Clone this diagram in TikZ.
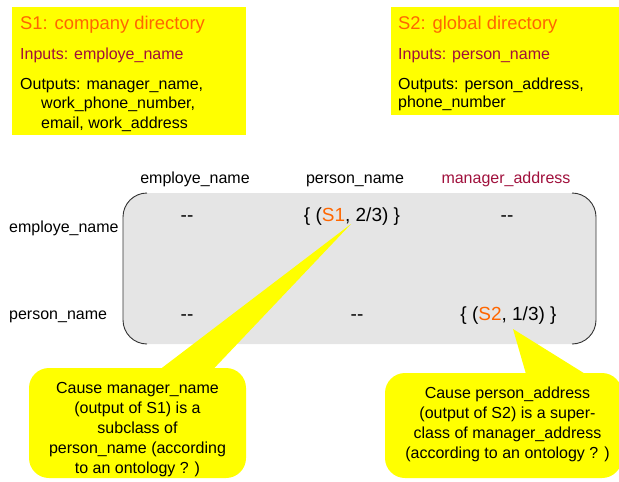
\documentclass[tikz,border=0pt]{standalone}
\usepackage{fontspec}
\setmainfont{Liberation Sans}
\definecolor{boxyellow}{RGB}{255,255,0}
\definecolor{svcorange}{RGB}{255,102,0}
\definecolor{inred}{RGB}{160,16,60}
\definecolor{matgrey}{RGB}{229,229,229}

\begin{document}
\begin{tikzpicture}[x=1pt,y=-1pt,
  txt/.style={inner sep=0pt,font=\fontsize{16pt}{20pt}\selectfont},
  cell/.style={inner sep=0pt,anchor=base,font=\fontsize{19pt}{22pt}\selectfont},
  ttl/.style={inner sep=0pt,text=svcorange,font=\fontsize{18.4pt}{22pt}\selectfont},
  svcbox/.style={fill=boxyellow,inner sep=0pt,anchor=north west},
  callbox/.style={fill=boxyellow,rounded corners=20pt,inner sep=0pt},
  note/.style={txt,align=center}]
\useasboundingbox (0,0) rectangle (619,482);

\node[svcbox,minimum width=234pt,minimum height=128pt] (s1) at (12,7) {};
\node[ttl,anchor=base west] (s1t) at (20,29.5) {S1: company directory};
\node[txt,anchor=base west,text=inred] (s1i) at (20,59) {Inputs: employe\_name};
\node[txt,anchor=base west] (s1o) at (20,89) {Outputs: manager\_name,};
\node[txt,anchor=base west] (s1o2) at (41,108.5) {work\_phone\_number,};
\node[txt,anchor=base west] (s1o3) at (41,128) {email, work\_address};

\node[svcbox,minimum width=228pt,minimum height=108pt] (s2) at (391,7) {};
\node[ttl,anchor=base west] (s2t) at (398,29) {S2: global directory};
\node[txt,anchor=base west,text=inred] (s2i) at (398,59) {Inputs: person\_name};
\node[txt,anchor=base west] (s2o) at (398,89) {Outputs: person\_address,};
\node[txt,anchor=base west] (s2o2) at (398,107.5) {phone\_number};

\fill[matgrey,rounded corners=24pt] (123,193) rectangle (596,344);
\draw[black!80,line width=0.9pt,rounded corners=24pt] (147,193) -- (123,193) -- (123,344) -- (147,344);
\draw[black!80,line width=0.9pt,rounded corners=24pt] (572,193) -- (596,193) -- (596,344) -- (572,344);

\node[txt,anchor=base] (h1) at (195,183) {employe\_name};
\node[txt,anchor=base] (h2) at (355,183) {person\_name};
\node[txt,anchor=base,text=inred] (h3) at (506,183) {manager\_address};
\node[txt,anchor=base west] (r1) at (9,232.5) {employe\_name};
\node[txt,anchor=base west] (r2) at (9,319.5) {person\_name};

\node[cell] (c11) at (187,221) {-{}-};
\node[cell] (c12) at (352,221) {\{ (\textcolor{svcorange}{S1}, 2/3) \}};
\node[cell] (c13) at (507,221) {-{}-};
\node[cell] (c21) at (187,320.5) {-{}-};
\node[cell] (c22) at (357,320.5) {-{}-};
\node[cell] (c23) at (508.5,320.5) {\{ (\textcolor{svcorange}{S2}, 1/3) \}};

\coordinate (tip1) at (351,224);
\coordinate (tip2) at (513,329);

\node[callbox,minimum width=217pt,minimum height=110pt] (why1) at (137.5,423) {};
\node[callbox,minimum width=237pt,minimum height=105pt] (why2) at (503.5,425.5) {};
\fill[boxyellow] ([xshift=128pt,yshift=-4pt]why1.north west) -- (tip1) -- ([xshift=182pt,yshift=-4pt]why1.north west) -- cycle;
\fill[boxyellow] ([xshift=142pt,yshift=-4pt]why2.north west) -- (tip2) -- ([xshift=205pt,yshift=-4pt]why2.north west) -- cycle;

\node[note] (why1txt) at (137.5,429.8) {Cause manager\_name\\(output of S1) is a\\subclass of\\person\_name (according\\to an ontology ? )};
\node[note] (why2txt) at (507.5,424.3) {Cause person\_address\\(output of S2) is a super-\\class of manager\_address\\(according to an ontology ? )};
\end{tikzpicture}
\end{document}
